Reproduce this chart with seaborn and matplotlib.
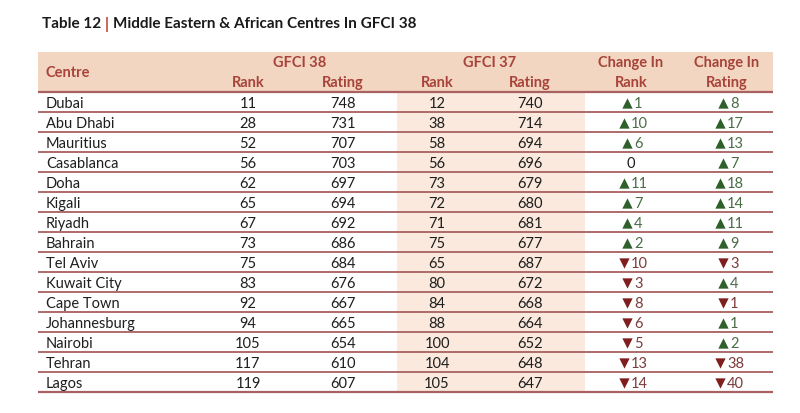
import matplotlib
matplotlib.use("Agg")
import matplotlib.pyplot as plt
import seaborn as sns
import numpy as np

centres = ["Dubai", "Abu Dhabi", "Mauritius", "Casablanca", "Doha", "Kigali", "Riyadh",
           "Bahrain", "Tel Aviv", "Kuwait City", "Cape Town", "Johannesburg", "Nairobi",
           "Tehran", "Lagos"]
rank38 = [11, 28, 52, 56, 62, 65, 67, 73, 75, 83, 92, 94, 105, 117, 119]
rating38 = [748, 731, 707, 703, 697, 694, 692, 686, 684, 676, 667, 665, 654, 610, 607]
rank37 = [12, 38, 58, 56, 73, 72, 71, 75, 65, 80, 84, 88, 100, 104, 105]
rating37 = [740, 714, 694, 696, 679, 680, 681, 677, 687, 672, 668, 664, 652, 648, 647]
rank_change = [1, 10, 6, 0, 11, 7, 4, 2, -10, -3, -8, -6, -5, -13, -14]
rating_change = [8, 17, 13, 7, 18, 14, 11, 9, -3, 4, -1, 1, 2, -38, -40]

sns.set_theme(style="white")
plt.rcParams['font.family'] = ['Lato', 'DejaVu Sans']

W, H = 800, 414
fig = plt.figure(figsize=(8, 4.14), dpi=100)
ax = fig.add_axes([0, 0, 1, 1])
ax.set_xlim(0, W)
ax.set_ylim(H, 0)
ax.axis("off")

HEAD_C = "#A8433A"
LINE_C = "#A86060"
BAND_C = "#F2D6C1"
SHADE_C = "#FAE9DC"
TXT_C = "#1E1E1E"
UP_C, UP_T = "#2F5F2A", "#4C6B47"
DN_C, DN_T = "#7E1E1E", "#7A3C3C"

left, right = 38, 773
head_top, head_bot = 53, 93
row_h = 20.0
n = len(centres)
bottom = head_bot + row_h * n

# backgrounds
ax.add_patch(plt.Rectangle((left, head_top), right - left, head_bot - head_top, color=BAND_C, lw=0, zorder=0))
ax.add_patch(plt.Rectangle((397, head_bot), 188, bottom - head_bot, color=SHADE_C, lw=0, zorder=0))

# title
tfs = 11
t1 = ax.text(42, 24, "Table 12 ", fontsize=tfs, fontweight="bold", color="#1a1a1a", va="center", ha="left")
fig.canvas.draw()
x_pipe = t1.get_window_extent().x1
t2 = ax.text(x_pipe, 24, "| ", fontsize=tfs, fontweight="bold", color="#C0392B", va="center", ha="left")
fig.canvas.draw()
x_rest = t2.get_window_extent().x1
ax.text(x_rest, 24, "Middle Eastern & African Centres In GFCI 38", fontsize=tfs, fontweight="bold",
        color="#1a1a1a", va="center", ha="left")

# header
hfs = 10.5
ax.text(46, 73, "Centre", color=HEAD_C, fontsize=hfs, fontweight="bold", va="center", ha="left")
cols = [248, 343, 437, 530, 631, 727]
ax.text(300, 63, "GFCI 38", color=HEAD_C, fontsize=hfs, fontweight="bold", va="center", ha="center")
ax.text(490, 63, "GFCI 37", color=HEAD_C, fontsize=hfs, fontweight="bold", va="center", ha="center")
for cx, lab in zip(cols[:4], ["Rank", "Rating", "Rank", "Rating"]):
    ax.text(cx, 83, lab, color=HEAD_C, fontsize=hfs, fontweight="bold", va="center", ha="center")
for cx, lab in zip(cols[4:], ["Rank", "Rating"]):
    ax.text(cx, 63, "Change In", color=HEAD_C, fontsize=hfs, fontweight="bold", va="center", ha="center")
    ax.text(cx, 83, lab, color=HEAD_C, fontsize=hfs, fontweight="bold", va="center", ha="center")

# lines
ax.plot([left, right], [head_bot, head_bot], color=LINE_C, lw=1.6, solid_capstyle="butt")
for i in range(1, n + 1):
    y = head_bot + row_h * i
    ax.plot([left, right], [y, y], color=LINE_C, lw=1.3 if i < n else 1.6, solid_capstyle="butt")

fs = 10.5
def change_text(cx, y, v):
    if v == 0:
        ax.text(cx, y, "0", color=TXT_C, fontsize=fs, va="center", ha="center")
        return
    tc, nc = (UP_C, UP_T) if v > 0 else (DN_C, DN_T)
    mk = "^" if v > 0 else "v"
    num = str(abs(v))
    w_num = 6.0 * len(num)
    w_tri = 12
    x0 = cx - (w_num + w_tri) / 2
    ax.scatter([x0 + 5], [y - 0.5], marker=mk, s=55, color=tc, linewidths=0, zorder=3)
    ax.text(x0 + w_tri, y, num, color=nc, fontsize=fs, va="center", ha="left")

for i in range(n):
    y = head_bot + row_h * (i + 0.5) + 1.5
    ax.text(46, y, centres[i], color=TXT_C, fontsize=fs, va="center", ha="left")
    for cx, v in zip(cols[:4], [rank38[i], rating38[i], rank37[i], rating37[i]]):
        ax.text(cx, y, str(v), color=TXT_C, fontsize=fs, va="center", ha="center")
    change_text(cols[4], y, rank_change[i])
    change_text(cols[5], y, rating_change[i])

fig.savefig("out.png", dpi=100, facecolor="white")
